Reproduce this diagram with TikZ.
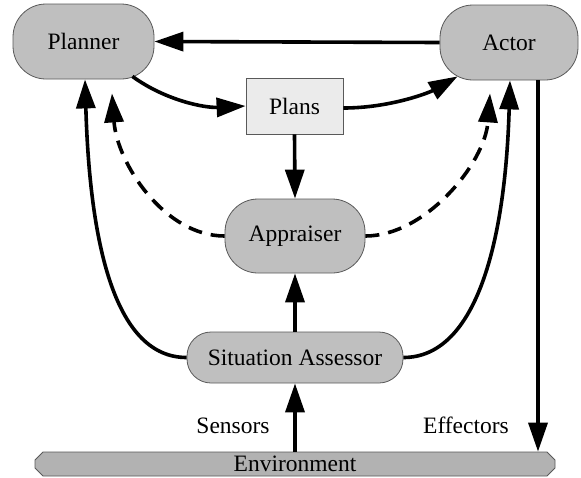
\documentclass[tikz,border=0pt]{standalone}
\usepackage{fontspec}
\setmainfont{Liberation Serif}
\usetikzlibrary{arrows.meta,shapes.misc}
\begin{document}
\begin{tikzpicture}[x=1pt,y=-1pt,
  every node/.style={font=\rmfamily\fontsize{23.5}{27}\selectfont, inner sep=0pt},
  capsule/.style={draw=black!65, line width=0.8pt, fill=black!25, rounded corners=#1},
  plansbox/.style={draw=black!65, line width=0.8pt, fill=black!8},
  envbar/.style={draw=black!65, line width=0.8pt, fill=black!30, chamfered rectangle, chamfered rectangle xsep=5pt, chamfered rectangle angle=45},
  arr/.style={line width=3.6pt, -{Triangle[length=29pt,width=19pt]}},
  dasharr/.style={arr, dash pattern=on 14pt off 9pt},
  lbl/.style={anchor=base}]
\useasboundingbox (0,0) rectangle (581,477);
\node[capsule=33pt, minimum width=141pt, minimum height=75pt] (planner) at (83.5,41.5) {Planner};
\node[capsule=33pt, minimum width=138pt, minimum height=75pt] (actor) at (509,42.5) {Actor};
\node[plansbox, minimum width=97pt, minimum height=56pt] (plans) at (294.5,106) {Plans};
\node[capsule=33pt, minimum width=140pt, minimum height=74pt] (appr) at (295,236) {Appraiser};
\node[capsule=24pt, minimum width=216pt, minimum height=51pt] (sa) at (295,357.5) {Situation Assessor};
\node[envbar, minimum width=520pt, minimum height=24pt] (env) at (295,464) {Environment};
\node[lbl] (sens) at (233,433) {Sensors};
\node[lbl] (eff) at (466,433) {Effectors};
% connectors
\draw[arr] (actor.west) -- (planner.east);
\draw[arr] ([xshift=-22pt,yshift=3pt]planner.south east) .. controls +(33,24) and +(-41,2) .. (plans.west);
\draw[arr] ([yshift=-2pt]plans.east) .. controls +(47,0) and +(-28,16) .. ([xshift=18pt,yshift=4pt]actor.south west);
\draw[arr] (plans.south) -- (appr.north);
\draw[arr] (sa.north) -- (appr.south);
\draw[arr] (env.north) -- (sa.south);
\draw[arr] ([xshift=29pt]actor.south) -- ([xshift=29pt]actor.south |- env.north);
\draw[arr] (sa.west) .. controls +(-70,0) and +(5,170) .. ([xshift=1.5pt]planner.south);
\draw[arr] (sa.east) .. controls +(70,0) and +(-5,170) .. ([xshift=1pt]actor.south);
\draw[dasharr] (appr.west) .. controls +(-60,0) and +(5,70) .. ([xshift=28.5pt,yshift=-14pt]planner.south);
\draw[dasharr] (appr.east) .. controls +(60,0) and +(-5,70) .. ([xshift=-19pt,yshift=-13pt]actor.south);
\end{tikzpicture}
\end{document}
